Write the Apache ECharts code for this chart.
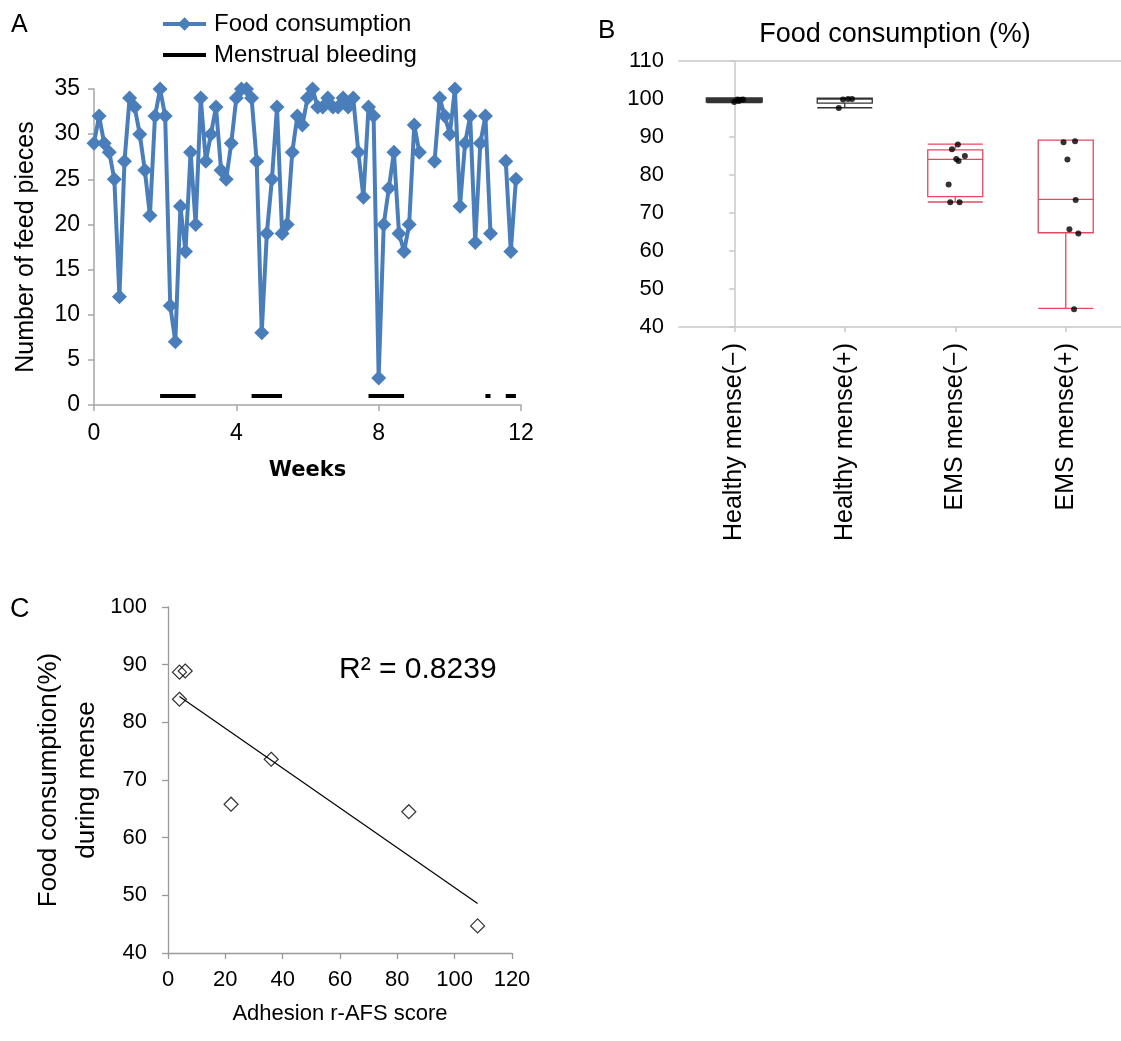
<!DOCTYPE html>
<html>
<head>
<meta charset="utf-8">
<script src="https://cdn.jsdelivr.net/npm/echarts@6/dist/echarts.min.js"></script>
<style>
  html, body { margin: 0; padding: 0; background: #fff; }
  #main { width: 1121px; height: 1041px; }
</style>
</head>
<body>
<div id="main"></div>
<script>
// A: daily feed pieces over 12 weeks (null = no record)
const foodPieces = [29, 32, 29, 28, 25, 12, 27, 34, 33, 30, 26, 21, 32, 35, 32, 11, 7, 22, 17, 28, 20, 34,
  27, 30, 33, 26, 25, 29, 34, 35, 35, 34, 27, 8, 19, 25, 33, 19, 20, 28, 32, 31, 34, 35,
  33, 33, 34, 33, 33, 34, 33, 34,
  28, 23, 33, 32, 3, 20, 24, 28, 19, 17, 20, 31, 28,
  null, null,
  27, 34, 32, 30, 35, 22, 29, 32, 18, 29, 32, 19,
  null, null,
  27, 17, 25];
const bleedingDays = [13, 14, 15, 16, 17, 18, 19, 20, 31, 32, 33, 34, 35, 36, 37,
  54, 55, 56, 57, 58, 59, 60, 61, 77, 78, 81, 82, 83];
const bleedingLevel = 1;

// B: box plot stats [min, Q1, median, Q3, max] and jittered points
const groups = ['Healthy mense(\u2212)', 'Healthy mense(+)', 'EMS mense(\u2212)', 'EMS mense(+)'];
const boxStats = [
  [99.2, 99.3, 99.8, 100.2, 100.2],
  [97.7, 98.9, 100.0, 100.2, 100.2],
  [72.9, 74.3, 84.1, 86.6, 88.1],
  [44.9, 64.8, 73.6, 89.2, 89.2]
];
const pointOffsets = [
  [0.0, 0.03, 0.06, 0.08, 0.04],
  [-0.015, 0.03, 0.066, -0.054],
  [0.024, -0.03, 0.009, 0.03, 0.087, -0.06, -0.045, 0.039],
  [-0.02, 0.084, 0.015, 0.09, 0.033, 0.114, 0.075]
];
const pointValues = [
  [99.2, 99.9, 99.8, 99.9, 99.5],
  [99.9, 100.0, 100.0, 97.6],
  [88.0, 86.8, 84.2, 83.7, 85.0, 77.5, 72.8, 72.8],
  [88.6, 88.9, 84.1, 73.4, 65.7, 64.6, 44.7]
];

// C: adhesion score vs food consumption
const afsScore = [4, 6, 4, 36, 22, 84, 108];
const consumption = [88.7, 88.9, 84.0, 73.6, 65.8, 64.5, 44.7];
const trendEnds = [[4, 84.5], [108, 48.6]];
const rSquared = 'R\u00b2 = 0.8239';

const font = 'Liberation Sans, Arial, sans-serif';
const blue = '#4a7ebb';
const red = '#e24a60';

const foodData = foodPieces.map((v, d) => [d / 7, v == null ? '-' : v]);
const bleedData = foodPieces.map((v, d) => [d / 7, bleedingDays.indexOf(d) >= 0 ? bleedingLevel : '-']);

const boxData = boxStats.map((s, i) => {
  let style = { color: '#fff', borderColor: red, borderWidth: 1.3 };
  if (i === 0) style = { color: '#777', borderColor: '#333', borderWidth: 2.2 };
  if (i === 1) style = { color: '#fff', borderColor: '#333', borderWidth: 1.3 };
  return { value: s, itemStyle: style };
});
const jitterData = [];
pointValues.forEach((vals, g) => {
  vals.forEach((v, k) => jitterData.push([g + pointOffsets[g][k], v]));
});

const chart = echarts.init(document.getElementById('main'), null, { renderer: 'canvas' });

const grayA = '#a6a6a6';
const grayB = '#c8c8c8';
const grayC = '#999';
function lbl(size, extra) {
  return Object.assign({ color: '#000', fontSize: size, fontFamily: font }, extra);
}

const option = {
  backgroundColor: '#fff',
  animation: false,
  title: [{
    text: 'Food consumption (%)',
    left: 890, top: 16, textAlign: 'center',
    textStyle: { fontSize: 27, fontWeight: 'normal', color: '#000', fontFamily: font }
  }],
  legend: {
    data: [
      { name: 'Food consumption' },
      { name: 'Menstrual bleeding', icon: 'path://M0,0H43V4H0Z' }
    ],
    orient: 'vertical',
    left: 161, top: 12, padding: 0,
    itemWidth: 43, itemHeight: 17, itemGap: 7,
    symbolKeepAspect: true,
    lineStyle: { width: 4 },
    textStyle: { fontSize: 24, color: '#000', fontFamily: font, padding: [0, 0, 0, 3] }
  },
  graphic: [
    { type: 'text', left: 11, top: 13, style: { text: 'A', fontSize: 25, fontFamily: font, fill: '#000' } },
    { type: 'text', left: 598, top: 18, style: { text: 'B', fontSize: 26, fontFamily: font, fill: '#000' } },
    { type: 'text', left: 10, top: 596, style: { text: 'C', fontSize: 27, fontFamily: font, fill: '#000' } },
    { type: 'text', left: 339, top: 655, style: { text: rSquared, fontSize: 30, fontFamily: font, fill: '#000' } }
  ],
  grid: [
    { left: 94, top: 89, width: 427, height: 316 },
    { left: 679, top: 61, width: 445, height: 266 },
    { left: 168, top: 607, width: 344, height: 346 }
  ],
  xAxis: [
    {
      gridIndex: 0, type: 'value', min: 0, max: 12, interval: 4,
      name: 'Weeks', nameLocation: 'middle', nameGap: 55,
      nameTextStyle: { fontSize: 21, fontWeight: 'bold', color: '#000', fontFamily: 'DejaVu Sans, sans-serif' },
      axisLine: { lineStyle: { color: grayA, width: 1.5 } },
      axisTick: { show: true, length: 6, lineStyle: { color: grayA, width: 1.5 } },
      axisLabel: lbl(23, { margin: 17 }),
      splitLine: { show: false }
    },
    {
      gridIndex: 1, type: 'category', data: groups, boundaryGap: true,
      axisLine: { lineStyle: { color: grayB, width: 1.5 } },
      axisTick: { show: true, alignWithLabel: true, length: 5, lineStyle: { color: grayB, width: 1.5 } },
      axisLabel: lbl(25, { rotate: 90, margin: 16 })
    },
    {
      // jitter axis for the dots; its line doubles as the top frame
      gridIndex: 1, type: 'value', min: -0.5, max: 3.5, position: 'top',
      axisLine: { show: true, lineStyle: { color: grayB, width: 1.5 } },
      axisTick: { show: false }, axisLabel: { show: false }, splitLine: { show: false }
    },
    {
      gridIndex: 2, type: 'value', min: 0, max: 120, interval: 20,
      name: 'Adhesion r-AFS score', nameLocation: 'middle', nameGap: 50,
      nameTextStyle: { fontSize: 22, color: '#000', fontFamily: font },
      axisLine: { lineStyle: { color: grayC, width: 1.3 } },
      axisTick: { show: true, length: 6, lineStyle: { color: grayC, width: 1.3 } },
      axisLabel: lbl(22, { margin: 16 }),
      splitLine: { show: false }
    }
  ],
  yAxis: [
    {
      gridIndex: 0, type: 'value', min: 0, max: 35, interval: 5,
      name: 'Number of feed pieces', nameLocation: 'middle', nameGap: 55,
      nameTextStyle: { fontSize: 25, color: '#000', fontFamily: font },
      axisLine: { show: true, lineStyle: { color: grayA, width: 1.5 } },
      axisTick: { show: true, length: 6, lineStyle: { color: grayA, width: 1.5 } },
      axisLabel: lbl(23, { margin: 14 }),
      splitLine: { show: false }
    },
    {
      gridIndex: 1, type: 'value', min: 40, max: 110, interval: 10,
      axisLine: { show: true, lineStyle: { color: grayB, width: 1.5 } },
      axisTick: { show: true, length: 5, lineStyle: { color: grayB, width: 1.5 } },
      axisLabel: lbl(22, { margin: 15 }),
      splitLine: { show: false }
    },
    {
      gridIndex: 2, type: 'value', min: 40, max: 100, interval: 10,
      name: 'Food consumption(%)\nduring mense', nameLocation: 'middle', nameGap: 62,
      nameTextStyle: { fontSize: 26, lineHeight: 38, color: '#000', fontFamily: font },
      axisLine: { show: true, lineStyle: { color: grayC, width: 1.3 } },
      axisTick: { show: true, length: 6, lineStyle: { color: grayC, width: 1.3 } },
      axisLabel: lbl(22, { margin: 21 }),
      splitLine: { show: false }
    }
  ],
  series: [
    {
      name: 'Food consumption', type: 'line', xAxisIndex: 0, yAxisIndex: 0,
      data: foodData, connectNulls: false,
      symbol: 'diamond', symbolSize: 15,
      lineStyle: { color: blue, width: 4 },
      itemStyle: { color: blue },
      z: 3
    },
    {
      name: 'Menstrual bleeding', type: 'line', xAxisIndex: 0, yAxisIndex: 0,
      data: bleedData, connectNulls: false,
      symbol: 'none',
      lineStyle: { color: '#000', width: 4 },
      itemStyle: { color: '#000' },
      z: 2
    },
    {
      name: 'box', type: 'boxplot', xAxisIndex: 1, yAxisIndex: 1,
      boxWidth: [55, 55],
      data: boxData
    },
    {
      name: 'points', type: 'scatter', xAxisIndex: 2, yAxisIndex: 1,
      data: jitterData, symbolSize: 6,
      itemStyle: { color: '#000' },
      z: 4
    },
    {
      name: 'trend', type: 'line', xAxisIndex: 3, yAxisIndex: 2,
      data: trendEnds, symbol: 'none',
      lineStyle: { color: '#000', width: 1.2 },
      z: 2
    },
    {
      name: 'adhesion', type: 'scatter', xAxisIndex: 3, yAxisIndex: 2,
      data: afsScore.map((x, i) => [x, consumption[i]]),
      symbol: 'diamond', symbolSize: 14,
      itemStyle: { color: 'rgba(255,255,255,0)', borderColor: '#000', borderWidth: 1.2 },
      z: 3
    }
  ]
};

chart.setOption(option);
</script>
</body>
</html>
